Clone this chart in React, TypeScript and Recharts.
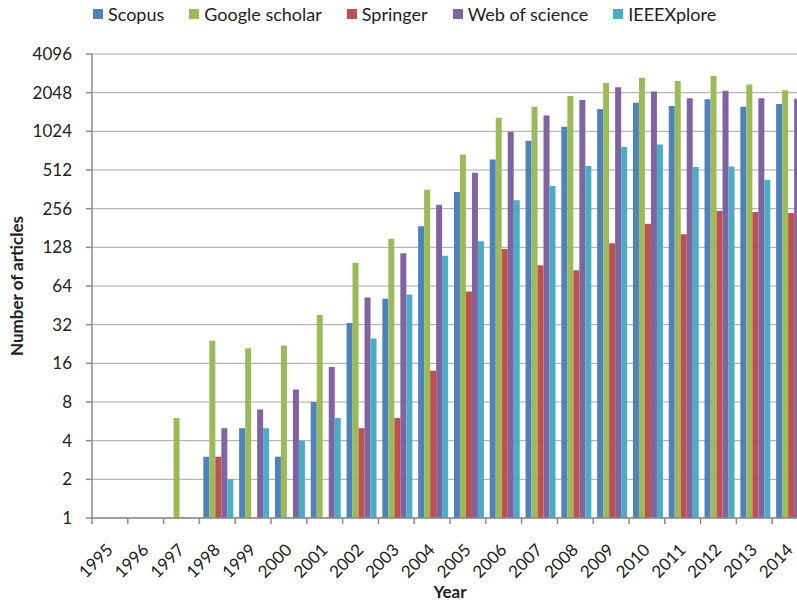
import React from 'react';
import { BarChart, Bar, XAxis, YAxis, CartesianGrid } from 'recharts';

const years = ['1995', '1996', '1997', '1998', '1999', '2000', '2001', '2002', '2003', '2004',
  '2005', '2006', '2007', '2008', '2009', '2010', '2011', '2012', '2013', '2014'];

const scopus = [null, null, null, 3, 5, 3, 8, 33, 51, 187, 345, 618, 866, 1111, 1528, 1711, 1609, 1817, 1594, 1673];
const googleScholar = [null, null, 6, 24, 21, 22, 38, 97, 149, 360, 677, 1305, 1594, 1927, 2432, 2680, 2521, 2760, 2374, 2135];
const springer = [null, null, null, 3, null, null, null, 5, 6, 14, 58, 124, 93, 85, 138, 195, 162, 245, 241, 237];
const webOfScience = [null, null, null, 5, 7, 10, 15, 52, 115, 275, 487, 1017, 1362, 1795, 2254, 2095, 1850, 2120, 1850, 1836];
const ieeeXplore = [null, null, null, 2, 5, 4, 6, 25, 55, 110, 143, 298, 384, 550, 772, 810, 540, 546, 430, 480];

const yTicks = [1, 2, 4, 8, 16, 32, 64, 128, 256, 512, 1024, 2048, 4096];

const series = [
  { key: 'scopus', name: 'Scopus', color: '#4F81BD' },
  { key: 'google', name: 'Google scholar', color: '#9BBB59' },
  { key: 'springer', name: 'Springer', color: '#C0504D' },
  { key: 'wos', name: 'Web of science', color: '#8064A2' },
  { key: 'ieee', name: 'IEEEXplore', color: '#4BACC6' },
];

const data = years.map((year, i) => ({
  year,
  scopus: scopus[i],
  google: googleScholar[i],
  springer: springer[i],
  wos: webOfScience[i],
  ieee: ieeeXplore[i],
}));

const FONT = 'Lato, "Open Sans", sans-serif';
const AXIS_COLOR = '#8c8c8c';

const YearTick = (props: any) => {
  const { x, y, payload } = props;
  const half = payload && payload.offset ? payload.offset : 17.9;
  return (
    <g>
      <line x1={x - half} y1={y} x2={x - half} y2={y + 6} stroke={AXIS_COLOR} strokeWidth={1.5} />
      <text
        transform={`translate(${x + 4},${y + 33}) rotate(-45)`}
        textAnchor="end"
        fontSize={17}
        fontFamily={FONT}
        fill="#222"
      >
        {payload.value}
      </text>
    </g>
  );
};

const Legend = () => (
  <div
    style={{
      position: 'absolute',
      top: 3,
      left: 93,
      display: 'flex',
      alignItems: 'center',
      fontFamily: FONT,
      fontSize: 18,
      color: '#222',
      whiteSpace: 'nowrap',
    }}
  >
    {series.map((s) => (
      <div key={s.key} style={{ display: 'flex', alignItems: 'center', marginRight: 25 }}>
        <span style={{ width: 10, height: 10, background: s.color, marginRight: 5, display: 'inline-block' }} />
        <span>{s.name}</span>
      </div>
    ))}
  </div>
);

export default function App() {
  return (
    <div
      style={{
        position: 'fixed',
        top: 0,
        left: 0,
        width: 797,
        height: 604,
        overflow: 'hidden',
        background: '#fff',
      }}
    >
      <Legend />
      <BarChart
        width={830}
        height={604}
        data={data}
        margin={{ top: 54, right: 22, bottom: 0, left: 0 }}
        barCategoryGap="11%"
        barGap={0}
      >
        <CartesianGrid vertical={false} stroke="#a6a6a6" strokeWidth={1} />
        <XAxis
          dataKey="year"
          height={86}
          interval={0}
          tickSize={0}
          tickMargin={0}
          tickLine={false}
          axisLine={{ stroke: AXIS_COLOR, strokeWidth: 1.5 }}
          tick={<YearTick />}
          label={{
            value: 'Year',
            position: 'insideBottom',
            offset: 6,
            style: { fontFamily: FONT, fontSize: 17, fontWeight: 700, fill: '#222' },
          }}
        />
        <YAxis
          width={92}
          type="number"
          scale="log"
          domain={[1, 4096]}
          ticks={yTicks}
          interval={0}
          allowDataOverflow
          tickSize={6}
          tickMargin={14}
          tickLine={{ stroke: AXIS_COLOR, strokeWidth: 1.5 }}
          axisLine={{ stroke: AXIS_COLOR, strokeWidth: 1.5 }}
          tick={{ fontFamily: FONT, fontSize: 17, fill: '#222' }}
          label={{
            value: 'Number of articles',
            angle: -90,
            position: 'insideLeft',
            offset: 17,
            style: { textAnchor: 'middle', fontFamily: FONT, fontSize: 17, fontWeight: 700, fill: '#222' },
          }}
        />
        {series.map((s) => (
          <Bar key={s.key} dataKey={s.key} name={s.name} fill={s.color} isAnimationActive={false} />
        ))}
      </BarChart>
    </div>
  );
}
